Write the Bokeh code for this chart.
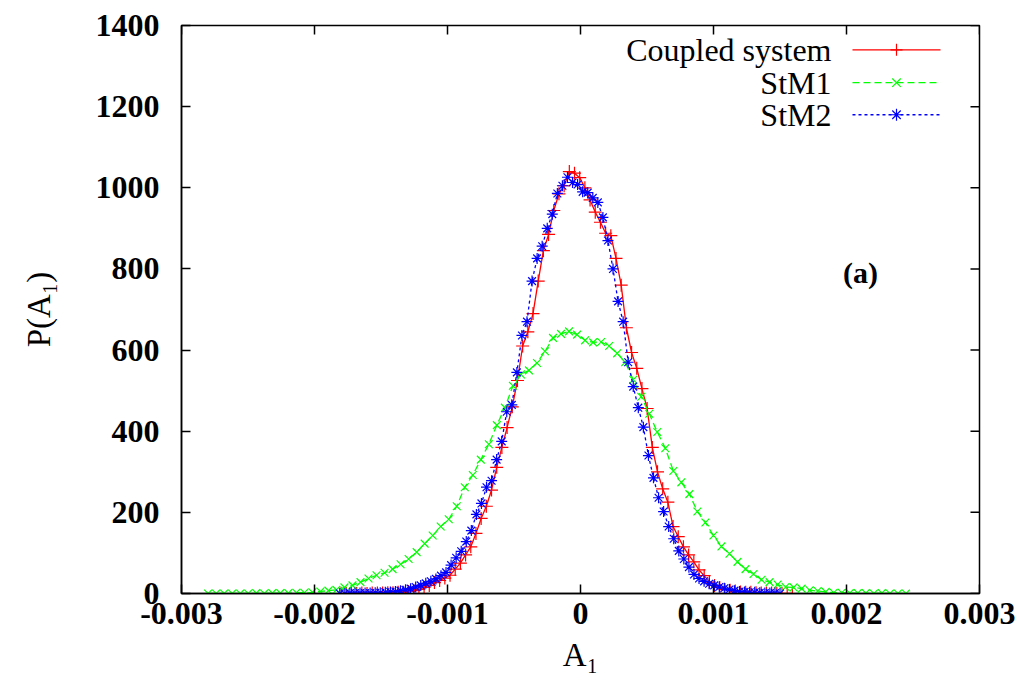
import numpy as np
from bokeh.plotting import figure
from bokeh.models import Range1d, FixedTicker, Label, ColumnDataSource
from bokeh.embed import file_html
from bokeh.resources import INLINE

# ---------------- data ----------------
# bin centres (evenly spaced histogram bins)
coupled_x = np.linspace(-0.0018, 0.001593, 88)
coupled_y = [0, 0, 0, 0, 1, 0, 1, 1, 1, 2,
             2, 3, 3, 5, 7, 10, 15, 20, 27, 32,
             38, 45, 60, 75, 95, 115, 148, 185, 215, 255,
             311, 360, 409, 460, 525, 610, 645, 690, 770, 845,
             885, 944, 985, 1005, 1040, 1036, 1025, 1000, 970, 940,
             915, 888, 882, 826, 760, 655, 594, 555, 505, 456,
             360, 300, 258, 225, 165, 140, 115, 95, 78, 58,
             44, 28, 20, 15, 10, 8, 6, 4, 3, 3,
             2, 1, 1, 1, 0, 0, 0, 0]

stm1_x = np.linspace(-0.0028, 0.002447, 88)
stm1_y = [0, 0, 0, 0, 0, 0, 1, 0, 1, 1,
          1, 2, 2, 3, 5, 7, 9, 15, 20, 28,
          37, 45, 51, 60, 72, 85, 102, 123, 143, 165,
          183, 215, 262, 292, 330, 368, 415, 458, 512, 540,
          550, 568, 597, 630, 640, 646, 638, 624, 619, 620,
          610, 592, 570, 527, 485, 443, 398, 358, 302, 274,
          245, 202, 175, 143, 116, 98, 78, 60, 48, 34,
          28, 22, 16, 15, 12, 8, 6, 4, 2, 2,
          1, 1, 1, 0, 1, 0, 0, 0]

stm2_x = np.linspace(-0.00181, 0.0015, 88)
stm2_y = [0, 0, 1, 1, 1, 1, 1, 2, 2, 3,
          4, 5, 7, 9, 12, 16, 20, 25, 30, 36,
          44, 52, 70, 88, 104, 128, 155, 195, 222, 262,
          278, 330, 375, 448, 465, 545, 636, 670, 770, 826,
          856, 900, 935, 986, 1005, 1026, 1013, 1008, 990, 988,
          975, 964, 927, 870, 800, 720, 670, 570, 510, 458,
          410, 340, 285, 236, 202, 165, 135, 105, 85, 65,
          47, 37, 30, 24, 20, 16, 13, 10, 7, 5,
          4, 3, 3, 2, 1, 1, 1, 0]

series_names = ["Coupled system", "StM1", "StM2"]
x_ticks = [-0.003, -0.002, -0.001, 0, 0.001, 0.002, 0.003]
x_tick_labels = ["-0.003", "-0.002", "-0.001", "0", "0.001", "0.002", "0.003"]
y_ticks = [0, 200, 400, 600, 800, 1000, 1200, 1400]

X0, X1, Y0, Y1 = -0.003, 0.003, 0, 1400

# ---------------- figure ----------------
FONT = "Liberation Serif"
p = figure(width=1020, height=690, output_backend="svg", toolbar_location=None,
           x_range=Range1d(X0, X1), y_range=Range1d(Y0, Y1),
           min_border_left=181, min_border_right=41, min_border_top=25,
           min_border_bottom=97)
p.xgrid.visible = False
p.ygrid.visible = False
p.outline_line_color = "black"
p.outline_line_width = 1.5
p.background_fill_color = "white"
p.border_fill_color = "white"

# axes
xa = p.xaxis[0]
xa.ticker = FixedTicker(ticks=x_ticks)
xa.major_label_overrides = {t: l for t, l in zip(x_ticks, x_tick_labels)}
ya = p.yaxis[0]
ya.ticker = FixedTicker(ticks=y_ticks)
for ax in (xa, ya):
    ax.major_tick_in = 9
    ax.major_tick_out = 0
    ax.minor_tick_line_color = None
    ax.axis_line_width = 1.5
    ax.major_tick_line_width = 1.5
    ax.major_tick_line_color = "black"
    ax.major_label_text_font = FONT
    ax.major_label_text_font_size = "32px"
    ax.major_label_text_font_style = "bold"
    ax.major_label_text_color = "black"
    ax.axis_label_text_font = FONT
    ax.axis_label_text_font_size = "33px"
    ax.axis_label_text_font_style = "normal"
    ax.axis_label_text_color = "black"
xa.axis_label = "A₁"
ya.axis_label = "P(A₁)"
xa.major_label_standoff = 9
xa.axis_label_standoff = 10
ya.major_label_standoff = 22
ya.axis_label_standoff = 36

# mirrored inward ticks on the top and right frame edges
tick_dy = 9 / 568 * (Y1 - Y0)
tick_dx = 9 / 798 * (X1 - X0)
p.segment(x0=x_ticks, y0=[Y1] * len(x_ticks), x1=x_ticks, y1=[Y1 - tick_dy] * len(x_ticks),
          line_color="black", line_width=1.5)
p.segment(x0=[X1] * len(y_ticks), y0=y_ticks, x1=[X1 - tick_dx] * len(y_ticks), y1=y_ticks,
          line_color="black", line_width=1.5)

# ---------------- series ----------------
RED, GREEN, BLUE = "#ff0000", "#00ff00", "#0000ff"

s1 = ColumnDataSource(dict(x=coupled_x, y=coupled_y))
s2 = ColumnDataSource(dict(x=stm1_x, y=stm1_y))
s3 = ColumnDataSource(dict(x=stm2_x, y=stm2_y))

p.line("x", "y", source=s1, line_color=RED, line_width=1.3)
p.scatter("x", "y", source=s1, marker="cross", size=13, line_color=RED, line_width=1.2)

p.line("x", "y", source=s2, line_color=GREEN, line_width=1.3, line_dash="7 4")
p.scatter("x", "y", source=s2, marker="x", size=11, line_color=GREEN, line_width=1.2)

p.line("x", "y", source=s3, line_color=BLUE, line_width=1.3, line_dash="3 3")
p.scatter("x", "y", source=s3, marker="asterisk", size=11, line_color=BLUE, line_width=1.2)

# ---------------- legend (gnuplot style, text left of sample) ----------------
leg_text_x = 0.001887
leg_x0, leg_xm, leg_x1 = 0.002045, 0.002376, 0.002707
leg_rows = [1340, 1259, 1180]
styles = [(RED, "solid", "cross"), (GREEN, "7 4", "x"), (BLUE, "3 3", "asterisk")]
for name, yy, (c, dash, mk) in zip(series_names, leg_rows, styles):
    p.add_layout(Label(x=leg_text_x, y=yy, text=name, text_align="right",
                       text_baseline="middle", text_font=FONT,
                       text_font_size="32px", text_color="black"))
    p.line([leg_x0, leg_x1], [yy, yy], line_color=c, line_width=1.3, line_dash=dash)
    p.scatter([leg_xm], [yy], marker=mk, size=12, line_color=c, line_width=1.2)

p.add_layout(Label(x=0.002105, y=791, text="(a)", text_align="center",
                   text_baseline="middle", text_font=FONT, text_font_size="30px",
                   text_font_style="bold", text_color="black"))

open("out.html", "w").write(file_html(p, INLINE))
